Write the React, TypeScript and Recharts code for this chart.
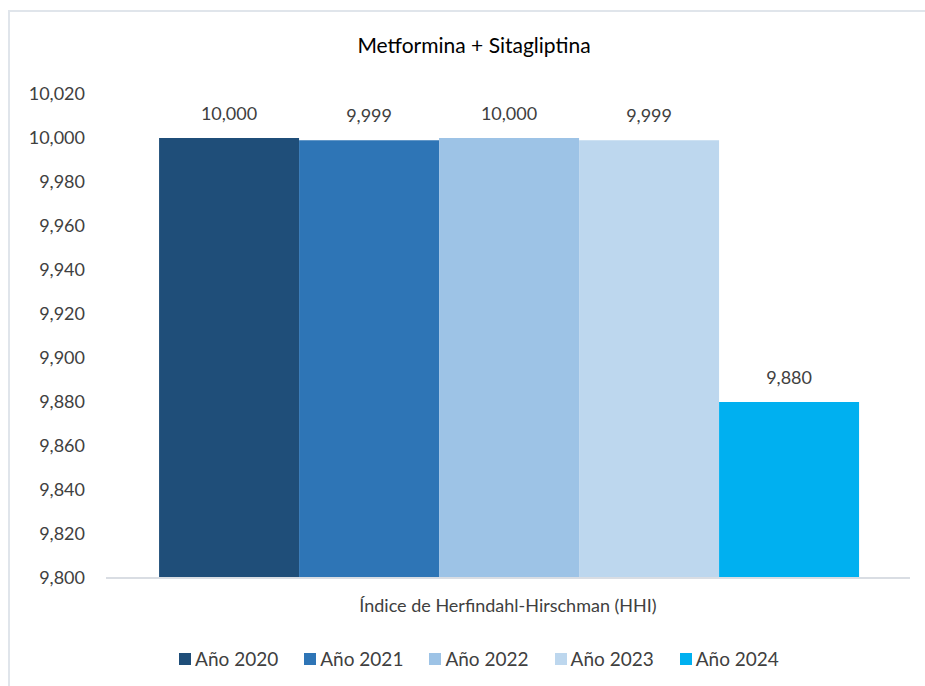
import { BarChart, Bar, XAxis, YAxis, Legend, LabelList } from "recharts";

const category = "Índice de Herfindahl-Hirschman (HHI)";
const seriesNames = ["Año 2020", "Año 2021", "Año 2022", "Año 2023", "Año 2024"];
const seriesValues = [10000, 9999, 10000, 9999, 9880];
const seriesColors = ["#1F4E79", "#2E75B6", "#9DC3E6", "#BDD7EE", "#00B0F0"];
const yTicks = [9800, 9820, 9840, 9860, 9880, 9900, 9920, 9940, 9960, 9980, 10000, 10020];

const row: Record<string, string | number> = { name: category };
seriesNames.forEach((s, i) => {
  row[s] = seriesValues[i];
});
const data = [row];

const font = "Lato, 'Noto Sans', sans-serif";
const fmt = (v: number) => v.toLocaleString("en-US");

const LegendContent = () => (
  <div style={{ display: "flex", justifyContent: "center", gap: 26, fontFamily: font, fontSize: 19, color: "#404040", paddingLeft: 48 }}>
    {seriesNames.map((s, i) => (
      <div key={s} style={{ display: "flex", alignItems: "center" }}>
        <span style={{ width: 12, height: 12, background: seriesColors[i], marginRight: 4, display: "inline-block" }} />
        {s}
      </div>
    ))}
  </div>
);

export default function App() {
  return (
    <div style={{ position: "absolute", left: 0, top: 0, width: 925, height: 686, overflow: "hidden", background: "#fff" }}>
      <div
        style={{
          position: "absolute",
          left: 8,
          top: 10,
          width: 940,
          height: 700,
          border: "2px solid #e0e5eb",
        }}
      />
      <div
        style={{
          position: "absolute",
          top: 32,
          left: 0,
          width: 948,
          textAlign: "center",
          fontFamily: font,
          fontSize: 21,
          color: "#000",
        }}
      >
        Metformina + Sitagliptina
      </div>
      <div style={{ position: "absolute", left: 0, top: 0 }}>
        <BarChart
          width={925}
          height={686}
          data={data}
          margin={{ top: 94, right: 15, left: 0, bottom: 9 }}
          barCategoryGap="6.6%"
          barGap={0}
        >
          <XAxis
            dataKey="name"
            axisLine={{ stroke: "#d9dde3", strokeWidth: 2 }}
            tickLine={false}
            tickSize={0}
            tickMargin={21}
            height={69}
            tick={{ fill: "#404040", fontSize: 18, fontFamily: font }}
          />
          <YAxis
            domain={[9800, 10020]}
            ticks={yTicks}
            interval={0}
            axisLine={false}
            tickLine={false}
            tickSize={0}
            tickMargin={21}
            width={106}
            tickFormatter={fmt}
            tick={{ fill: "#404040", fontSize: 18, fontFamily: font }}
          />
          <Legend verticalAlign="bottom" height={30} content={<LegendContent />} />
          {seriesNames.map((s, i) => (
            <Bar key={s} dataKey={s} fill={seriesColors[i]} isAnimationActive={false}>
              <LabelList
                dataKey={s}
                position="top"
                offset={18}
                formatter={(v: any) => fmt(Number(v))}
                style={{ fill: "#404040", fontSize: 18, fontFamily: font }}
              />
            </Bar>
          ))}
        </BarChart>
      </div>
    </div>
  );
}
